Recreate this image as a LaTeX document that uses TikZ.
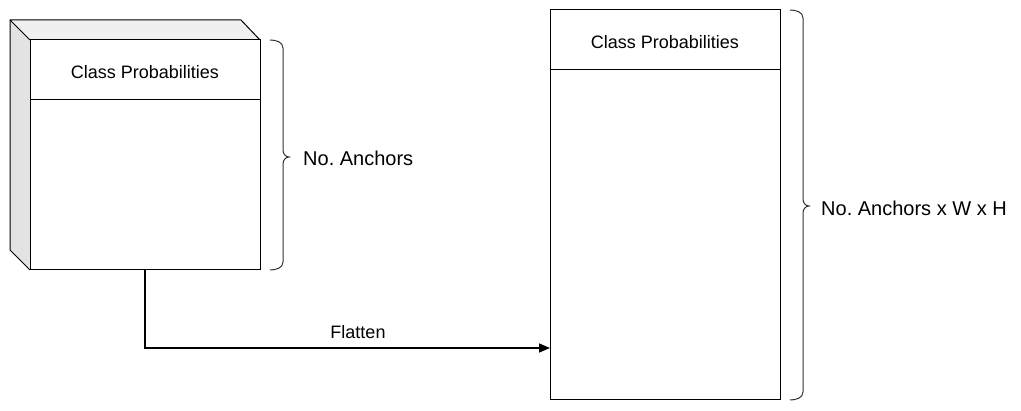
\documentclass[tikz,border=0pt]{standalone}
\usepackage{fontspec}
\setmainfont{Liberation Sans}
\usetikzlibrary{arrows.meta}
\frenchspacing
\definecolor{topface}{HTML}{F0F0F0}
\definecolor{sideface}{HTML}{E3E3E3}
\tikzset{
  box/.style={draw, line width=1pt, fill=white, inner sep=0pt, minimum width=230pt},
  divline/.style={line width=1pt},
  brace/.style={line width=1pt, draw=black!80},
  boxtext/.style={font=\fontsize{18}{20}\selectfont},
  bracetext/.style={font=\fontsize{20}{22}\selectfont, anchor=west, inner sep=0pt},
  flow/.style={line width=1.6pt, -{Triangle[length=11pt,width=9pt]}},
}
\begin{document}
\begin{tikzpicture}[x=1pt,y=-1pt]
\useasboundingbox (0,0) rectangle (1021,411);
% cube side and top faces
\fill[sideface] (10,20) -- (30,40) -- (30,270) -- (10,250) -- cycle;
\fill[topface] (10,20) -- (241,20) -- (260,40) -- (30,40) -- cycle;
\draw[line width=1pt, line join=round] (30,40) -- (10,20) -- (241,20) -- (260,40);
\draw[line width=1pt, line join=round] (10,20) -- (10,250) -- (30,270);
% left front box
\node[box, minimum height=230pt] (lbox) at (145,155) {};
\draw[divline] (30,100) -- (260,100);
\node[boxtext] (ltitle) at (145,72) {Class Probabilities};
% right box
\node[box, minimum height=390pt] (rbox) at (665,205) {};
\draw[divline] (550,70) -- (780,70);
\node[boxtext] (rtitle) at (665,42) {Class Probabilities};
% left brace
\draw[brace] (270,40) to[out=0,in=90] (283,48) -- (283,150) to[out=-90,in=180] (289,157)
  to[out=180,in=90] (283,164) -- (283,262) to[out=-90,in=0] (270,270);
\node[bracetext] (lbl) at (303,158) {No.\ Anchors};
% right brace
\draw[brace] (790,10) to[out=0,in=90] (803,18) -- (803,199) to[out=-90,in=180] (809,206)
  to[out=180,in=90] (803,213) -- (803,392) to[out=-90,in=0] (790,400);
\node[bracetext] (rbl) at (821,208) {No.\ Anchors x W x H};
% arrow
\coordinate (ain) at (550,348);
\draw[flow] (lbox.south) |- (ain);
\node[boxtext] (flat) at (358,332) {Flatten};
\end{tikzpicture}
\end{document}
